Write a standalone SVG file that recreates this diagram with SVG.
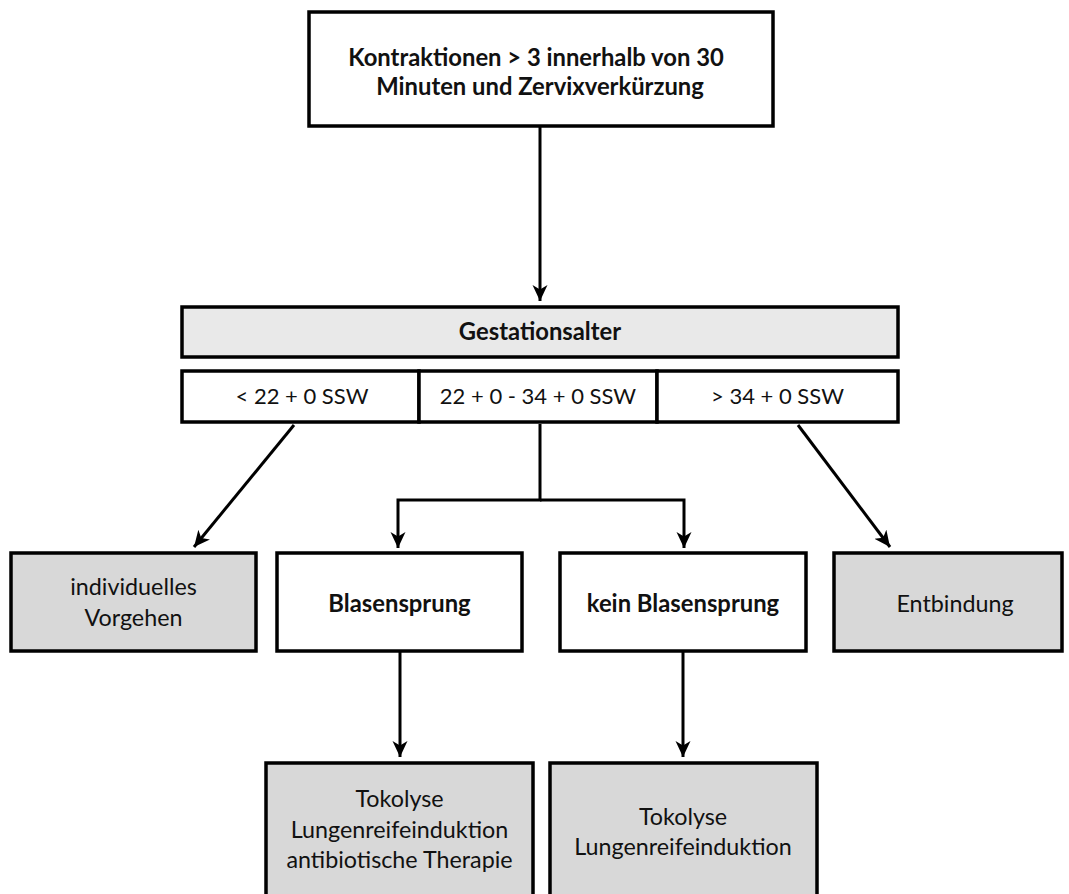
<svg xmlns="http://www.w3.org/2000/svg" width="1069" height="894" viewBox="0 0 1069 894">
  <defs>
    <style>
      .box { stroke: #000; stroke-width: 3.5; fill: #fff; }
      .gray { fill: #d8d8d8; }
      .light { fill: #e9e9e9; }
      .t { font-family: Lato, "Liberation Sans", sans-serif; font-size: 23.3px; fill: #111; text-anchor: middle; }
      .s { font-size: 22px; }
      .b { font-weight: bold; font-size: 23.8px; }
      .c { stroke: #000; stroke-width: 3; fill: none; }
    </style>
    <marker id="ah" markerUnits="userSpaceOnUse" markerWidth="17" markerHeight="17" viewBox="0 0 17 17" refX="16" refY="8.5" orient="auto">
      <path d="M0,1 L16,8.5 L0,16 L4.5,8.5 Z" fill="#000"/>
    </marker>
  </defs>
  <rect width="1069" height="894" fill="#fff"/>

  <g id="connectors">
    <line class="c" x1="540" y1="126" x2="540" y2="301" marker-end="url(#ah)"/>
    <line class="c" x1="294" y1="425" x2="194" y2="547" marker-end="url(#ah)"/>
    <polyline class="c" points="540,424 540,500 398,500 398,548" marker-end="url(#ah)"/>
    <polyline class="c" points="540,500 684,500 684,548" marker-end="url(#ah)"/>
    <line class="c" x1="798" y1="425" x2="890" y2="547" marker-end="url(#ah)"/>
    <line class="c" x1="400" y1="651" x2="400" y2="757" marker-end="url(#ah)"/>
    <line class="c" x1="683" y1="651" x2="683" y2="757" marker-end="url(#ah)"/>
  </g>

  <g id="start">
    <rect class="box" x="309" y="12" width="464" height="114"/>
    <text class="t b" x="536" y="66">Kontraktionen &gt; 3 innerhalb von 30</text>
    <text class="t b" x="540" y="95">Minuten und Zervixverkürzung</text>
  </g>

  <g id="gestationsalter">
    <rect class="box light" x="182" y="307" width="716" height="50"/>
    <text class="t b" x="540" y="340">Gestationsalter</text>
  </g>

  <g id="ga-lt22">
    <rect class="box" x="182" y="371" width="237" height="51"/>
    <text class="t s" x="302" y="404">&lt; 22 + 0 SSW</text>
  </g>
  <g id="ga-22-34">
    <rect class="box" x="419" y="371" width="238" height="51"/>
    <text class="t s" x="538" y="404">22 + 0 - 34 + 0 SSW</text>
  </g>
  <g id="ga-gt34">
    <rect class="box" x="657" y="371" width="241" height="51"/>
    <text class="t s" x="777.5" y="404">&gt; 34 + 0 SSW</text>
  </g>

  <g id="individuell">
    <rect class="box gray" x="11" y="553" width="245" height="98"/>
    <text class="t" x="133.5" y="595">individuelles</text>
    <text class="t" x="133.5" y="626">Vorgehen</text>
  </g>
  <g id="blasensprung">
    <rect class="box" x="277" y="553" width="245" height="98"/>
    <text class="t b" x="399.5" y="612">Blasensprung</text>
  </g>
  <g id="kein-blasensprung">
    <rect class="box" x="560" y="553" width="246" height="98"/>
    <text class="t b" x="683" y="612">kein Blasensprung</text>
  </g>
  <g id="entbindung">
    <rect class="box gray" x="834" y="553" width="228" height="98"/>
    <text class="t" x="955" y="612">Entbindung</text>
  </g>

  <g id="therapie-bs">
    <rect class="box gray" x="266" y="763" width="267" height="140"/>
    <text class="t" x="399.5" y="807">Tokolyse</text>
    <text class="t" x="399.5" y="838">Lungenreifeinduktion</text>
    <text class="t" x="399.5" y="868">antibiotische Therapie</text>
  </g>
  <g id="therapie-kbs">
    <rect class="box gray" x="550" y="763" width="267" height="140"/>
    <text class="t" x="683" y="825">Tokolyse</text>
    <text class="t" x="683" y="855">Lungenreifeinduktion</text>
  </g>
</svg>
